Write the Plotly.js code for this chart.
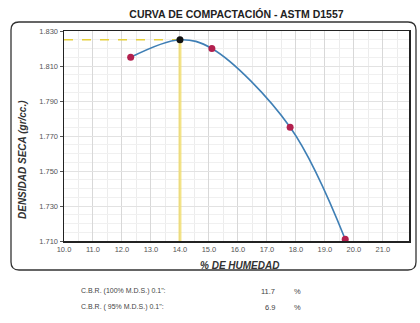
<!DOCTYPE html>
<html><head><meta charset="utf-8">
<script src="https://cdn.plot.ly/plotly-3.0.1.min.js"></script>
<style>html,body{margin:0;padding:0;background:#fff}#c{width:420px;height:323px}</style>
</head><body><div id="c"></div>
<script>
const humedad = [12.3, 14.0, 15.1, 17.8, 19.7];
const densidad = [1.815, 1.825, 1.820, 1.775, 1.711];
const optHum = [14.0];
const maxDens = [1.825];
const xTicks = [10,11,12,13,14,15,16,17,18,19,20,21];
const xTickText = ["10.0","11.0","12.0","13.0","14.0","15.0","16.0","17.0","18.0","19.0","20.0","21.0"];
const yTicks = [1.710,1.730,1.750,1.770,1.790,1.810,1.830];
const yTickText = ["1.710","1.730","1.750","1.770","1.790","1.810","1.830"];
const cbrLabels = ["C.B.R. (100% M.D.S.) 0.1\":", "C.B.R. ( 95% M.D.S.) 0.1\":"];
const cbrValues = ["11.7", "6.9"];

const xRange = [10, 21.9], yRange = [1.710, 1.830];
const pointColor = '#b3204e';

const traces = [
  {x:[xRange[0], optHum[0]], y:[maxDens[0], maxDens[0]], mode:'lines', line:{color:'#e6cf3a', width:1.5, dash:'dash'}, hoverinfo:'skip'},
  {x:[optHum[0], optHum[0]], y:[yRange[0], maxDens[0]], mode:'lines', line:{color:'#f0dc6a', width:3}, opacity:0.8, hoverinfo:'skip'},
  {x:humedad, y:densidad, mode:'lines', line:{color:'#3f7fb5', width:1.6, shape:'spline', smoothing:1}},
  {x:humedad, y:densidad, mode:'markers',
   marker:{size:7, color:humedad.map((h,i)=>densidad[i]===maxDens[0]?'#111':pointColor)}}
];

function px(xp){return (xp-64)/345;}
function py(yp){return 1-(yp-31)/210;}

const anns = [];
cbrLabels.forEach((t,i)=>{
  const y = 291 + i*16;
  anns.push({xref:'paper', yref:'paper', x:px(79), y:py(y), xanchor:'left', yanchor:'middle', text:t, showarrow:false, font:{size:7, color:'#444', family:'Liberation Sans'}});
  anns.push({xref:'paper', yref:'paper', x:px(277), y:py(y), xanchor:'right', yanchor:'middle', text:cbrValues[i], showarrow:false, font:{size:7.5, color:'#444', family:'Liberation Sans'}});
  anns.push({xref:'paper', yref:'paper', x:px(297), y:py(y), xanchor:'center', yanchor:'middle', text:'%', showarrow:false, font:{size:7.5, color:'#444', family:'Liberation Sans'}});
});
anns.push({xref:'paper', yref:'paper', x:px(239), y:py(265), xanchor:'center', yanchor:'middle', text:'<i><b>% DE HUMEDAD</b></i>', showarrow:false, font:{size:10, color:'#333', family:'Liberation Sans'}});
anns.push({xref:'paper', yref:'paper', x:px(22), y:py(160), xanchor:'center', yanchor:'middle', textangle:-90, text:'<i><b>DENSIDAD SECA (gr/cc.)</b></i>', showarrow:false, font:{size:10, color:'#333', family:'Liberation Sans'}});

const L=11,R=416,T=22,B=270,r=8;
const path = `M ${px(L+r)} ${py(T)} L ${px(R-r)} ${py(T)} Q ${px(R)} ${py(T)} ${px(R)} ${py(T+r)} L ${px(R)} ${py(B-r)} Q ${px(R)} ${py(B)} ${px(R-r)} ${py(B)} L ${px(L+r)} ${py(B)} Q ${px(L)} ${py(B)} ${px(L)} ${py(B-r)} L ${px(L)} ${py(T+r)} Q ${px(L)} ${py(T)} ${px(L+r)} ${py(T)} Z`;

const layout = {
  width:420, height:323,
  margin:{l:64, r:11, t:31, b:82},
  paper_bgcolor:'#fff', plot_bgcolor:'#fff',
  showlegend:false,
  font:{family:'Liberation Sans', color:'#444'},
  title:{text:'<b>CURVA DE COMPACTACIÓN - ASTM D1557</b>', font:{size:10.5, color:'#222', family:'Liberation Sans'}, x:0.563, xanchor:'center', y:1-14/323, yanchor:'middle', yref:'container'},
  xaxis:{range:xRange, tickvals:xTicks, ticktext:xTickText, tickfont:{size:7.5, color:'#555'},
    showgrid:true, gridcolor:'#d8d8d8', gridwidth:1,
    minor:{dtick:0.5, showgrid:true, gridcolor:'#ececec'},
    showline:true, linecolor:'#222', linewidth:1.5, mirror:true, ticks:'', zeroline:false},
  yaxis:{range:yRange, tickvals:yTicks, ticktext:yTickText, tickfont:{size:7.5, color:'#555'},
    showgrid:true, gridcolor:'#e2e2e2', gridwidth:1,
    minor:{dtick:0.005, showgrid:true, gridcolor:'#f0f0f0'},
    showline:true, linecolor:'#222', linewidth:1.5, mirror:true, ticks:'outside', ticklen:3, tickcolor:'#555', zeroline:false},
  shapes:[
    {type:'path', xref:'paper', yref:'paper', path:path, line:{color:'#333', width:1.3}, fillcolor:'rgba(0,0,0,0)', layer:'below'}
  ],
  annotations:anns
};
Plotly.newPlot('c', traces, layout, {displayModeBar:false, staticPlot:true});
</script></body></html>
